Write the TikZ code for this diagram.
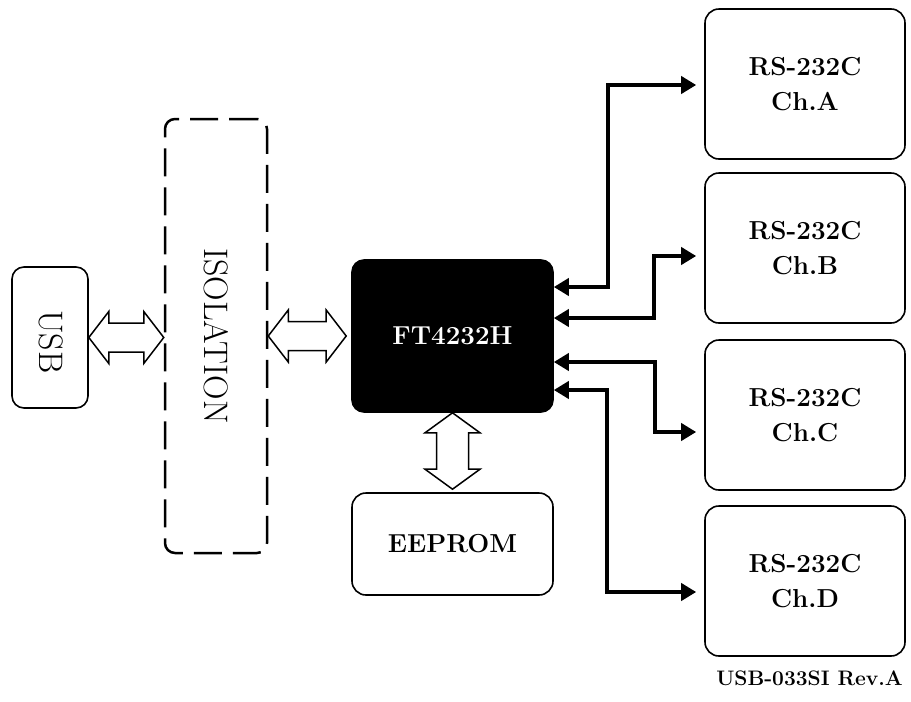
\documentclass[tikz,border=0pt]{standalone}
\usepackage{fontspec}
\usetikzlibrary{arrows.meta,calc}
\newcommand{\BigBoldTxt}{\fontsize{26}{35}\selectfont\bfseries}
\newcommand{\BigRomTxt}{\fontsize{34}{38}\selectfont}
\newcommand{\HollowH}[2]{\draw[hollow] let \p1=#1, \p2=#2 in (\x1,\y1) -- ++(20pt,26pt) -- ++(0,-11.5pt) -- (\x2-20pt,\y1+14.5pt) -- ++(0,11.5pt) -- (\x2,\y1) -- ++(-20pt,-26pt) -- ++(0,11.5pt) -- (\x1+20pt,\y1-14.5pt) -- ++(0,-11.5pt) -- cycle;}
\newcommand{\HollowV}[2]{\draw[hollow] let \p1=#1, \p2=#2 in (\x1,\y1) -- ++(27.5pt,-20pt) -- ++(-11.5pt,0) -- (\x1+16pt,\y2+20pt) -- ++(11.5pt,0) -- (\x1,\y2) -- ++(-27.5pt,20pt) -- ++(11.5pt,0) -- (\x1-16pt,\y1-20pt) -- ++(-11.5pt,0) -- cycle;}
\begin{document}
\begin{tikzpicture}[x=1pt,y=-1pt,
  box/.style={draw, line width=1.6pt, rounded corners=14pt, inner sep=0pt, align=center, font=\BigBoldTxt},
  chbox/.style={box, minimum width=200pt, minimum height=150pt},
  hollow/.style={draw, fill=white, line width=1.5pt, line join=miter},
  bus/.style={line width=4.5pt, >={Triangle[length=15pt,width=17pt]}, <->, shorten >=8pt}]
\useasboundingbox[fill=white] (0,0) rectangle (911,702);

% boxes
\node[box, rounded corners=12pt, minimum width=76pt, minimum height=141pt] (usb) at (50,337.5) {};
\node[rotate=-90, font=\BigRomTxt] (usbtxt) at (51,342) {USB};
\node[draw, dash pattern=on 28pt off 11pt, line width=2.5pt, rounded corners=10pt, minimum width=102pt, minimum height=434pt, inner sep=0pt] (iso) at (216,336) {};
\node[rotate=-90, font=\BigRomTxt] (isotxt) at (iso) {ISOLATION};
\node[box, fill=black, text=white, rounded corners=12pt, minimum width=201pt, minimum height=152pt] (ft) at (452.5,336) {FT4232H};
\node[box, minimum width=201pt, minimum height=102pt] (ee) at (452.5,544) {EEPROM};
\node[chbox] (chA) at (805,84) {RS-232C\\Ch.A};
\node[chbox] (chB) at (805,248) {RS-232C\\Ch.B};
\node[chbox] (chC) at (805,415) {RS-232C\\Ch.C};
\node[chbox] (chD) at (805,581) {RS-232C\\Ch.D};
\node[anchor=base east, inner sep=0pt, font=\fontsize{21}{24}\selectfont\bfseries] (rev) at (903,685) {USB-033SI Rev.A};

% hollow double arrows
\HollowH{(usb.east)}{(iso.west)}
\HollowH{(iso.east)}{($(ft.west)+(-5pt,0)$)}
\HollowV{(ft.south)}{($(ee.north)+(0,3pt)$)}

% bus connectors
\coordinate (kA) at (608,85);
\coordinate (kB) at (654,256);
\coordinate (kC) at (655,432);
\coordinate (kD) at (607,592);
\draw[bus] ([yshift=49pt]ft.east) -| (kA) -- (kA -| chA.west);
\draw[bus] ([yshift=18pt]ft.east) -| (kB) -- (kB -| chB.west);
\draw[bus] ([yshift=-26pt]ft.east) -| (kC) -- (kC -| chC.west);
\draw[bus] ([yshift=-54pt]ft.east) -| (kD) -- (kD -| chD.west);
\end{tikzpicture}
\end{document}
